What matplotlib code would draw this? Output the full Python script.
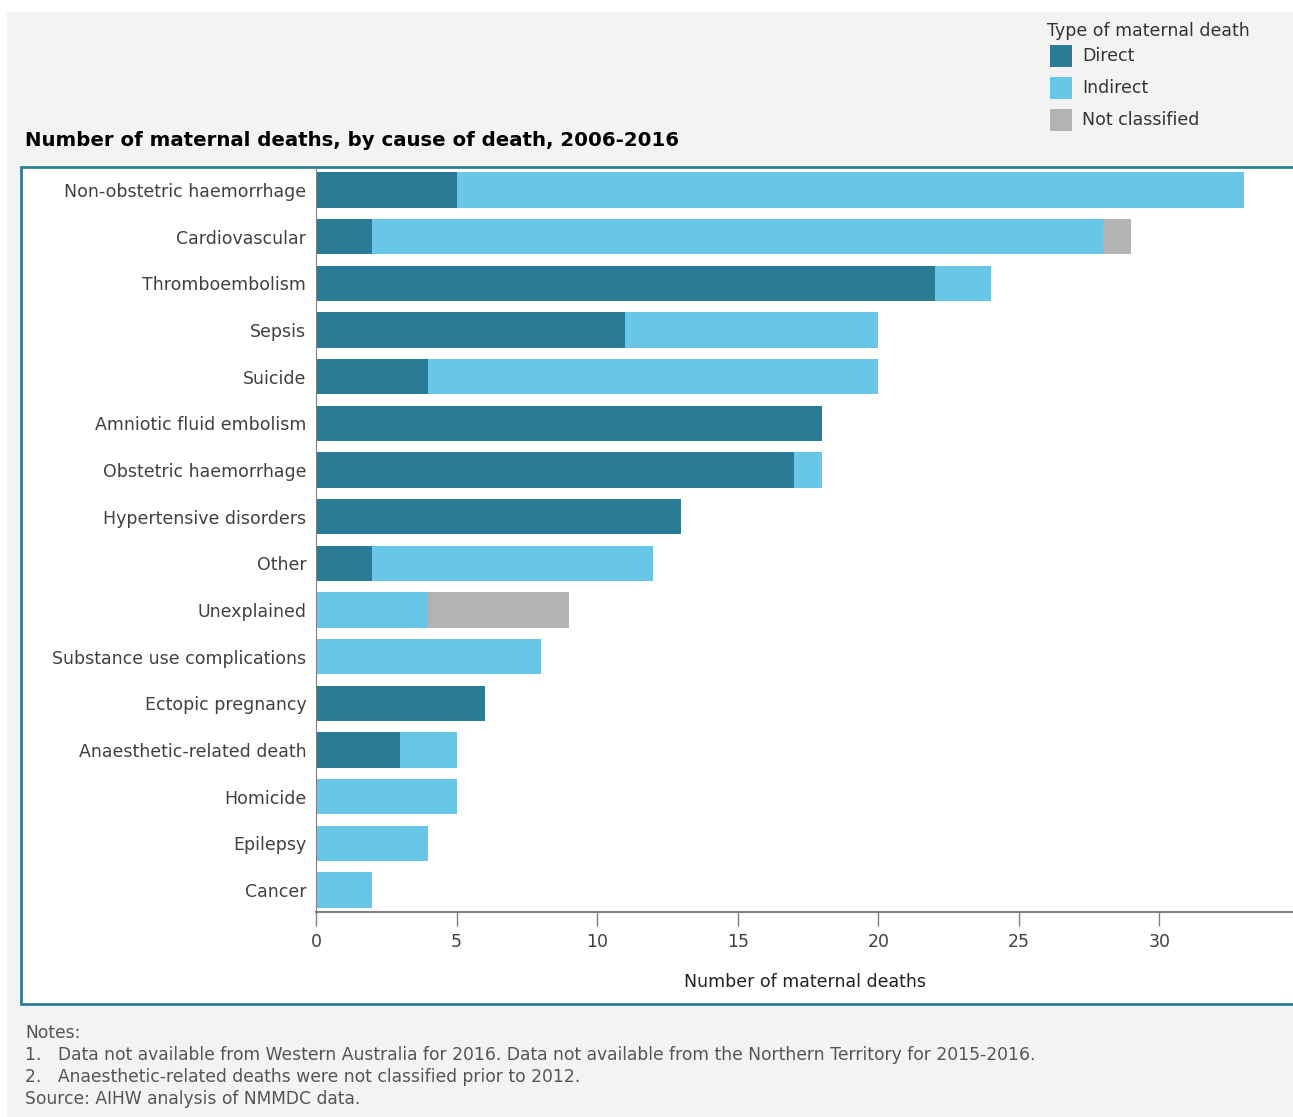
import matplotlib.pyplot as plt
from matplotlib.patches import Rectangle, Patch

# -----------------------------
# data
# -----------------------------
causes = ['Non-obstetric haemorrhage', 'Cardiovascular', 'Thromboembolism', 'Sepsis',
          'Suicide', 'Amniotic fluid embolism', 'Obstetric haemorrhage',
          'Hypertensive disorders', 'Other', 'Unexplained', 'Substance use complications',
          'Ectopic pregnancy', 'Anaesthetic-related death', 'Homicide', 'Epilepsy', 'Cancer']
direct = [5, 2, 22, 11, 4, 18, 17, 13, 2, 0, 0, 6, 3, 0, 0, 0]
indirect = [28, 26, 2, 9, 16, 0, 1, 0, 10, 4, 8, 0, 2, 5, 4, 2]
not_classified = [0, 1, 0, 0, 0, 0, 0, 0, 0, 5, 0, 0, 0, 0, 0, 0]
xticks = [0, 5, 10, 15, 20, 25, 30]

series_names = ['Direct', 'Indirect', 'Not classified']
colors = ['#2a7c96', '#68c6e6', '#b3b3b3']

notes = ['Notes:',
         '1.   Data not available from Western Australia for 2016. Data not available from the Northern Territory for 2015-2016.',
         '2.   Anaesthetic-related deaths were not classified prior to 2012.',
         'Source: AIHW analysis of NMMDC data.']

# -----------------------------
# figure
# -----------------------------
W, H = 1293, 1117
plt.rcParams['font.family'] = ['DejaVu Sans']
fig = plt.figure(figsize=(W / 100, H / 100), dpi=100, facecolor='white')

def fx(px):
    return px / W

def fy(py):
    return 1 - py / H

# grey page background and white framed chart area
fig.patches.append(Rectangle((fx(7), 0), 1, fy(12), transform=fig.transFigure,
                             facecolor='#f3f3f3', edgecolor='none', zorder=0))
fig.patches.append(Rectangle((fx(21), fy(1004)), 1.2, fy(167) - fy(1004),
                             transform=fig.transFigure, facecolor='white',
                             edgecolor='#2f7f93', linewidth=2, zorder=1))

ax = fig.add_axes([fx(316), fy(912), fx(1293) - fx(316), fy(168) - fy(912)])
ax.set_facecolor('none')
ax.set_zorder(2)

y = list(range(len(causes)))
left1 = direct
left2 = [d + i for d, i in zip(direct, indirect)]
bh = 0.76
ax.barh(y, direct, height=bh, color=colors[0], linewidth=0)
ax.barh(y, indirect, left=left1, height=bh, color=colors[1], linewidth=0)
ax.barh(y, not_classified, left=left2, height=bh, color=colors[2], linewidth=0)

ax.set_xlim(0, 34.75)
ax.set_ylim(len(causes) - 0.53, -0.47)
ax.set_yticks(y)
ax.set_yticklabels(causes, fontsize=12.5, color='#404040')
ax.tick_params(axis='y', length=0, pad=7)
ax.set_xticks(xticks)
ax.set_xticklabels([str(t) for t in xticks], fontsize=12.5, color='#404040')
ax.tick_params(axis='x', length=10, width=1, color='#808080', pad=5)

for s in ['top', 'right']:
    ax.spines[s].set_visible(False)
ax.spines['left'].set_color('#808080')
ax.spines['bottom'].set_color('#808080')
ax.spines['bottom'].set_linewidth(1.5)

ax.set_xlabel('Number of maternal deaths', fontsize=12.5, color='#222222', labelpad=16)

# title
fig.text(fx(25), fy(140), 'Number of maternal deaths, by cause of death, 2006-2016',
         fontsize=14.2, fontweight='bold', color='black', va='center', ha='left')

# legend (heading drawn separately to keep it tight above the swatches)
fig.text(fx(1047), fy(31), 'Type of maternal death', fontsize=12.5, color='#333333',
         va='center', ha='left')
handles = [Patch(facecolor=c, edgecolor='none') for c in colors]
leg = fig.legend(handles, series_names, loc='upper left', bbox_to_anchor=(fx(1047), fy(42)),
                 frameon=False, fontsize=12.5, handlelength=1.27, handleheight=1.57,
                 handletextpad=0.6, labelspacing=0.58, borderpad=0.15, borderaxespad=0)
for t in leg.get_texts():
    t.set_color('#333333')

# notes under the chart
for i, line in enumerate(notes):
    fig.text(fx(25), fy(1033 + 22 * i), line, fontsize=12.3, color='#555555',
             va='center', ha='left')

fig.savefig('out.png', dpi=100, facecolor=fig.get_facecolor())
